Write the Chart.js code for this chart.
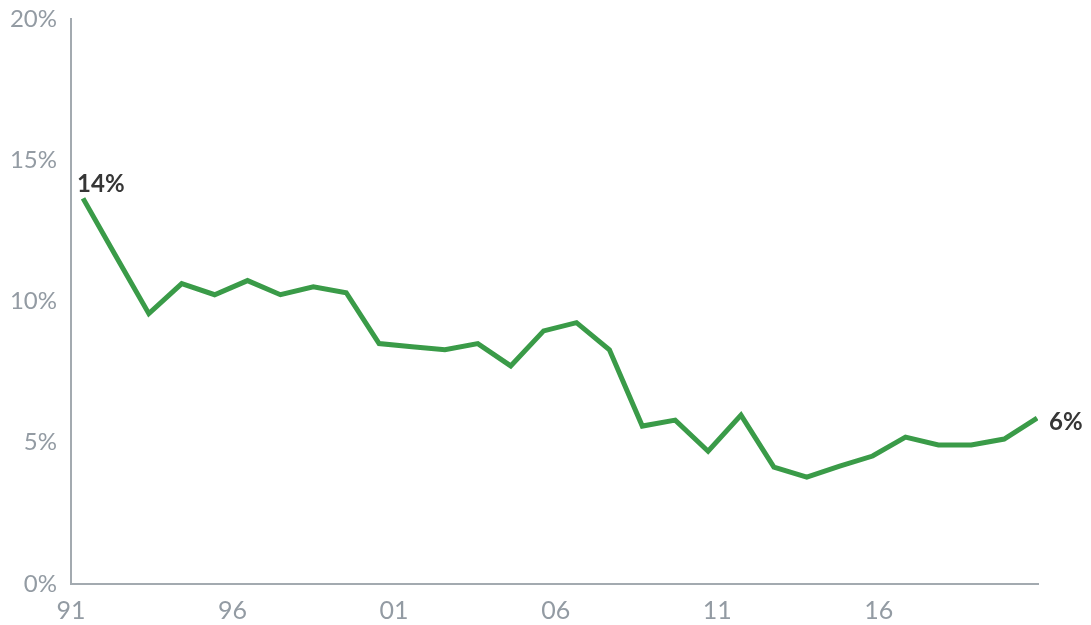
<!DOCTYPE html>
<html>
<head>
<meta charset="utf-8">
<script src="https://cdn.jsdelivr.net/npm/chart.js@4/dist/chart.umd.min.js"></script>
<style>
  html, body { margin: 0; padding: 0; background: #fff; }
  .wrap { width: 1091px; height: 625px; }
</style>
</head>
<body>
<div class="wrap"><canvas id="chart" width="1091" height="625"></canvas></div>
<script>
// yearly values
const years = [1991, 1992, 1993, 1994, 1995, 1996, 1997, 1998, 1999, 2000,
               2001, 2002, 2003, 2004, 2005, 2006, 2007, 2008, 2009, 2010,
               2011, 2012, 2013, 2014, 2015, 2016, 2017, 2018, 2019, 2020];
const rates = [13.65, 11.6, 9.57, 10.63, 10.24, 10.74, 10.24, 10.52, 10.31, 8.51,
               8.40, 8.29, 8.51, 7.72, 8.96, 9.25, 8.29, 5.59, 5.80, 4.70,
               5.98, 4.14, 3.78, 4.17, 4.53, 5.20, 4.92, 4.92, 5.13, 5.87];
const xTickYears = [1991, 1996, 2001, 2006, 2011, 2016];
const yTicks = [0, 5, 10, 15, 20];
const endLabels = ['14%', '6%'];

const GREEN = '#3a9b48';
const GREY = '#939ba3';
const AXIS = '#a3aab0';

// bold labels at first and last point
const endLabelPlugin = {
  id: 'endLabels',
  afterDatasetsDraw(chart) {
    const ctx = chart.ctx;
    const pts = chart.getDatasetMeta(0).data;
    const first = pts[0], last = pts[pts.length - 1];
    ctx.save();
    ctx.fillStyle = '#363636';
    ctx.font = 'bold 24px Lato';
    ctx.textAlign = 'left';
    ctx.textBaseline = 'alphabetic';
    ctx.fillText(endLabels[0], first.x - 6, first.y - 6);
    ctx.textBaseline = 'middle';
    ctx.fillText(endLabels[1], last.x + 12, last.y + 4);
    ctx.restore();
  }
};

new Chart(document.getElementById('chart'), {
  type: 'line',
  data: {
    datasets: [{
      data: years.map((y, i) => ({ x: y, y: rates[i] })),
      borderColor: GREEN,
      borderWidth: 5,
      pointRadius: 0,
      tension: 0,
      borderJoinStyle: 'miter',
      xAxisID: 'x',
      yAxisID: 'y'
    }]
  },
  options: {
    responsive: false,
    animation: false,
    layout: { padding: { top: 19, right: 53, left: 0, bottom: 0 } },
    plugins: { legend: { display: false }, tooltip: { enabled: false } },
    scales: {
      x: {
        type: 'linear',
        display: false,
        min: 1990.634,
        max: 2020.028
      },
      xt: {
        type: 'linear',
        position: 'bottom',
        min: 1991,
        max: 2020.93,
        afterBuildTicks(scale) {
          scale.ticks = xTickYears.map(v => ({ value: v }));
        },
        afterFit(scale) { scale.height = 41; },
        grid: { display: false, drawTicks: false },
        border: { display: true, color: AXIS, width: 2 },
        ticks: {
          color: GREY,
          font: { family: 'Lato', size: 25 },
          padding: 12,
          maxRotation: 0,
          autoSkip: false,
          callback: v => String(v).slice(-2)
        }
      },
      y: {
        min: 0,
        max: 20,
        afterBuildTicks(scale) {
          scale.ticks = yTicks.map(v => ({ value: v }));
        },
        afterFit(scale) {
          scale.width = 71;
          scale.paddingTop = 0;
          scale.paddingBottom = 0;
        },
        grid: { display: false, drawTicks: false },
        border: { display: true, color: AXIS, width: 2 },
        ticks: {
          color: GREY,
          font: { family: 'Lato', size: 24, lineHeight: 1 },
          padding: 14,
          callback: v => v + '%'
        }
      }
    }
  },
  plugins: [endLabelPlugin]
});
</script>
</body>
</html>
